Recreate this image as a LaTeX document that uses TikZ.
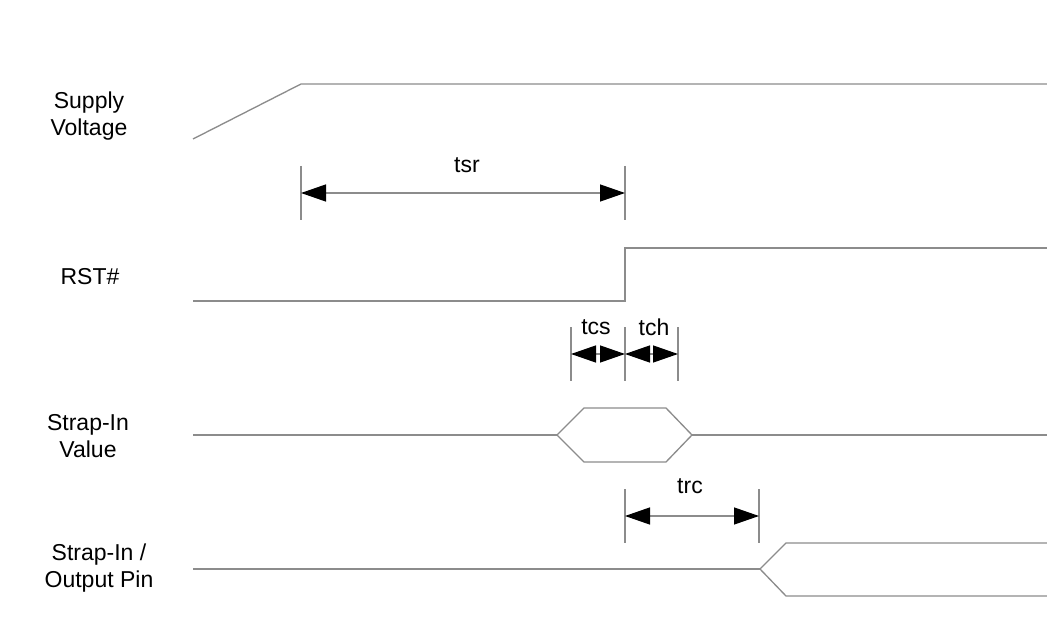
\documentclass[tikz,border=0pt]{standalone}
\usepackage{fontspec}
\setmainfont{Liberation Sans}
\usetikzlibrary{arrows.meta}

\tikzset{
  wave/.style={black!45,line width=1pt},
  ext/.style={black!45,line width=1pt},
  dim/.style={black!45,line width=1pt,
    {Triangle[length=18.75pt,width=12.75pt,color=black]}-{Triangle[length=18.75pt,width=12.75pt,color=black]}},
  lbl/.style={font=\fontsize{17.25}{20.5}\selectfont,align=center,inner sep=0pt},
}

\begin{document}
\begin{tikzpicture}[x=0.75pt,y=-0.75pt]
    \useasboundingbox (0,0) rectangle (1047,631);
    % signal names
    \node[lbl] (vcc) at (89,116) {Supply\\Voltage};
    \node[lbl] (rst) at (90,277) {RST\#};
    \node[lbl] (sval) at (88,436) {Strap-In\\Value};
    \node[lbl] (spin) at (99,568) {Strap-In /\\Output Pin};
    % waveforms
    \draw[wave] (193,139) -- (301,84) -- (1047,84);
    \draw[wave] (193,301) -- (625,301) -- (625,248) -- (1047,248);
    \draw[wave] (193,435) -- (557,435);
    \draw[wave] (557,435) -- (584,408) -- (666,408) -- (692,435) -- (666,462) -- (584,462) -- cycle;
    \draw[wave] (692,435) -- (1047,435);
    \draw[wave] (193,569) -- (760,569);
    \draw[wave] (760,569) -- (786,543) -- (1047,543);
    \draw[wave] (760,569) -- (786,596) -- (1047,596);
    % extension lines
    \draw[ext] (301,166) -- (301,220);
    \draw[ext] (625,166) -- (625,220);
    \draw[ext] (571,327) -- (571,381);
    \draw[ext] (625,327) -- (625,381);
    \draw[ext] (678,327) -- (678,381);
    \draw[ext] (625,489) -- (625,543);
    \draw[ext] (759,489) -- (759,543);
    % timing arrows
    \coordinate (sr1) at (301,193);
    \coordinate (sr2) at (625,193);
    \coordinate (cs1) at (571,354);
    \coordinate (cs2) at (625,354);
    \coordinate (ch2) at (678,354);
    \coordinate (rc1) at (625,516);
    \coordinate (rc2) at (759,516);
    \draw[dim] (sr1) -- (sr2);
    \draw[dim] (cs1) -- (cs2);
    \draw[dim] (cs2) -- (ch2);
    \draw[dim] (rc1) -- (rc2);
    \node[lbl] (tsr) at (467,165) {tsr};
    \node[lbl] (tcs) at (596,327) {tcs};
    \node[lbl] (tch) at (654,327) {tch};
    \node[lbl] (trc) at (690,486) {trc};
  \end{tikzpicture}
\end{document}
